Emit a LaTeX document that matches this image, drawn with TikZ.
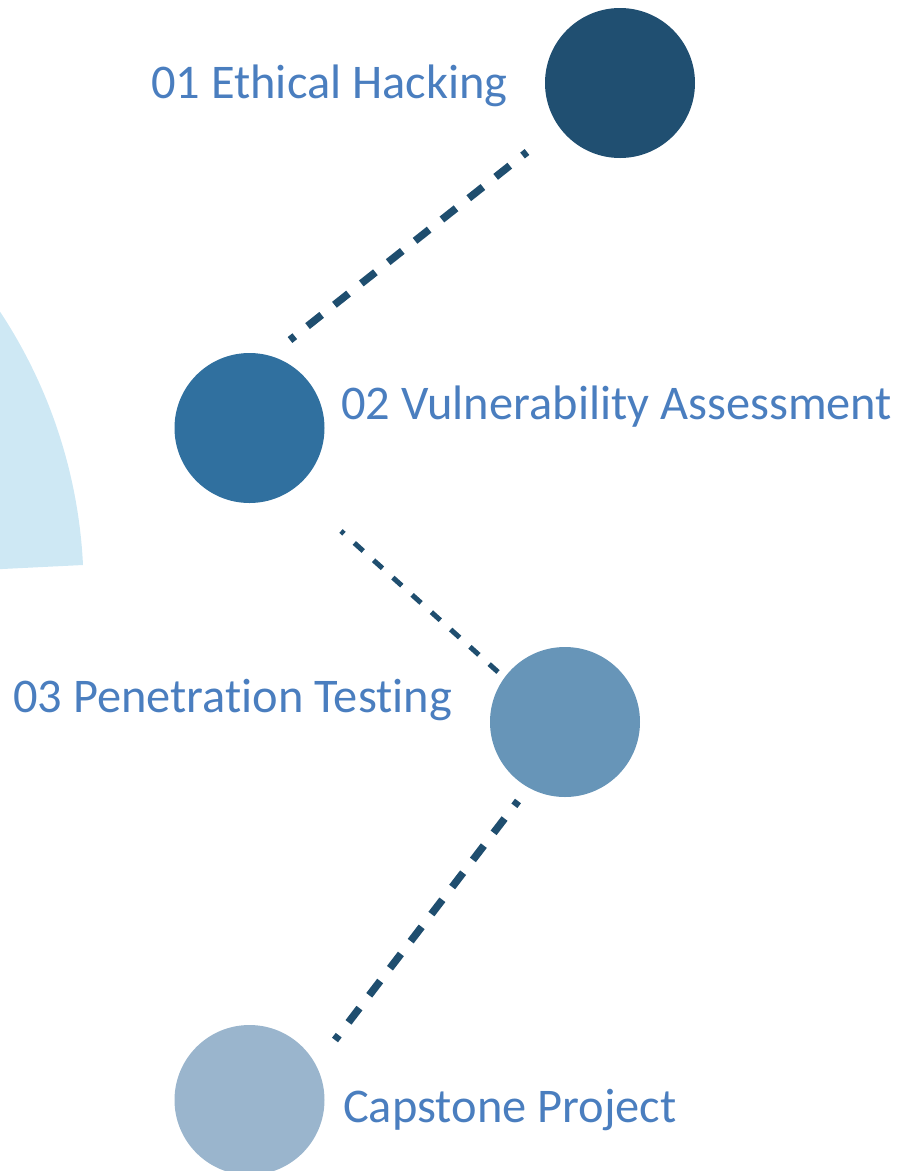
\documentclass[tikz,border=0pt]{standalone}
\usepackage{fontspec}
\setmainfont{Carlito}[Ligatures={NoCommon}]
\usepackage{tikz}
\definecolor{stageA}{HTML}{204F71}
\definecolor{stageB}{HTML}{30709F}
\definecolor{stageC}{HTML}{6795B8}
\definecolor{stageD}{HTML}{9AB5CD}
\definecolor{linkcol}{HTML}{1F4E6F}
\definecolor{labelcol}{HTML}{4A7EBF}
\definecolor{wedgecol}{HTML}{CEE8F4}
\tikzset{
    stage/.style={circle, minimum size=150pt, inner sep=0pt, outer sep=0pt},
    stagelabel/.style={anchor=base west, inner sep=0pt, text=labelcol,
        font=\fontsize{48.4}{58}\selectfont},
    link/.style={draw=linkcol, line width=7.5pt},
    thinlink/.style={draw=linkcol, line width=5pt}
}

\begin{document}
\begin{tikzpicture}[x=1pt, y=-1pt]
        \clip (0,0) rectangle (898,1171);

        % light wedge on the left edge
        \fill[wedgecol] (-421,590) -- (83,565) arc[start angle=-2.8, end angle=-60, radius=504];

        % stages
        \node[stage, fill=stageA] (s1) at (620,83) {};
        \node[stage, fill=stageB] (s2) at (249.5,428) {};
        \node[stage, fill=stageC] (s3) at (565,722) {};
        \node[stage, fill=stageD] (s4) at (249.5,1100) {};

        \node[stagelabel] (l1) at (151,98) {01 Ethical Hacking};
        \node[stagelabel] (l2) at (341,419) {02 Vulnerability Assessment};
        \node[stagelabel] (l3) at (13,712) {03 Penetration Testing};
        \node[stagelabel] (l4) at (343,1122) {Capstone Project};

        % dashed links between the stages
        \coordinate (d1a) at (527,152);
        \coordinate (d1b) at (290,340);
        \coordinate (d2a) at (341,531);
        \coordinate (d2b) at (498,672);
        \coordinate (d3a) at (518,801);
        \coordinate (d3b) at (335,1040);
        \draw[link, dash pattern=on 18pt off 16.3pt, dash phase=12.3pt] (d1a) -- (d1b);
        \draw[thinlink, dash pattern=on 12pt off 13.9pt, dash phase=8pt] (d2a) -- (d2b);
        \draw[link, dash pattern=on 18pt off 16.1pt, dash phase=12pt] (d3a) -- (d3b);
    \end{tikzpicture}
\end{document}
